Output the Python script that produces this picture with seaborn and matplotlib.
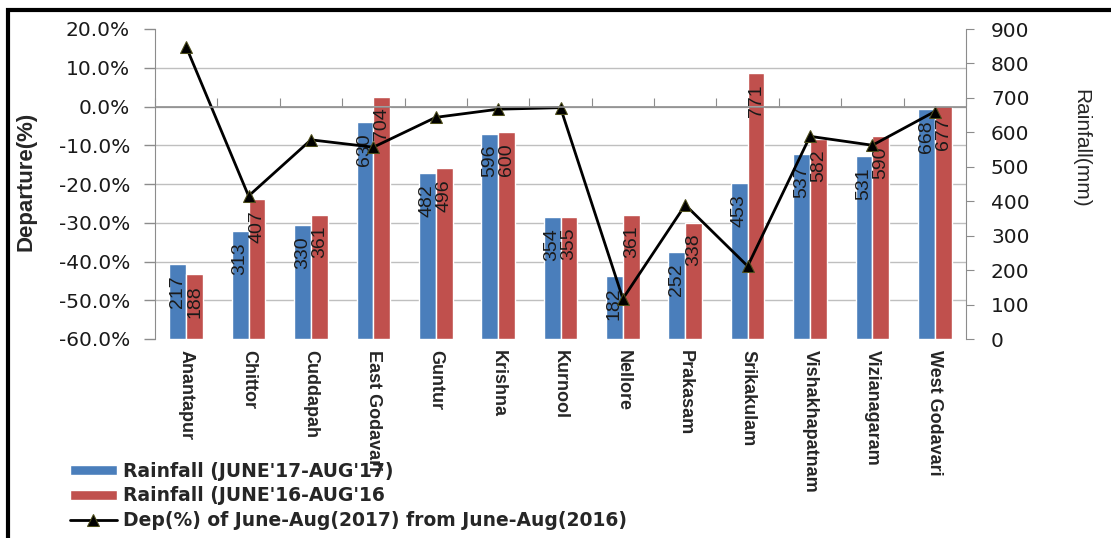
import numpy as np
import pandas as pd
import matplotlib
matplotlib.use("Agg")
import matplotlib.pyplot as plt
from matplotlib.patches import Rectangle
import seaborn as sns

districts = ["Anantapur", "Chittor", "Cuddapah", "East Godavari", "Guntur", "Krishna",
             "Kurnool", "Nellore", "Prakasam", "Srikakulam", "Vishakhapatnam",
             "Vizianagaram", "West Godavari"]
rain_2017 = [217, 313, 330, 630, 482, 596, 354, 182, 252, 453, 537, 531, 668]
rain_2016 = [188, 407, 361, 704, 496, 600, 355, 361, 338, 771, 582, 590, 677]
departure = [15.4, -23.1, -8.6, -10.5, -2.8, -0.7, -0.3, -49.6, -25.4, -41.2, -7.7, -10.0, -1.3]

lab17 = "Rainfall (JUNE'17-AUG'17)"
lab16 = "Rainfall (JUNE'16-AUG'16"
labdep = "Dep(%) of June-Aug(2017) from June-Aug(2016)"

bars = pd.DataFrame({
    "district": districts * 2,
    "rain": rain_2017 + rain_2016,
    "period": [lab17] * len(districts) + [lab16] * len(districts),
})
dep = pd.DataFrame({"district": districts, "dep": departure})

sns.set_style("white")
plt.rcParams["font.family"] = ["DejaVu Sans"]
fam = ["Liberation Sans", "DejaVu Sans"]
grey = "#8C8C8C"

fig = plt.figure(figsize=(11.11, 5.38), dpi=100)
ax = fig.add_axes([155 / 1111, 1 - 339 / 538, (966 - 155) / 1111, 310 / 538])
ax2 = ax.twinx()

# bars on the right (rainfall) axis
sns.barplot(data=bars, x="district", y="rain", hue="period", ax=ax2,
            palette=["#4A7EBB", "#C0504D"], width=0.54, saturation=1)
h2, l2 = ax2.get_legend_handles_labels()
ax2.get_legend().remove()

for cont, vals in zip(ax2.containers, [rain_2017, rain_2016]):
    for p, v in zip(cont.patches, vals):
        ax2.annotate(str(v), xy=(p.get_x() + p.get_width() / 2, p.get_height()),
                     xytext=(0, -8), textcoords="offset points", rotation=90,
                     ha="center", va="top", fontsize=14, color="#1a1a1a", family=fam)

# departure line on the left axis
sns.lineplot(data=dep, x="district", y="dep", ax=ax, color="black", lw=2,
             marker="^", markersize=8, markerfacecolor="black",
             markeredgecolor="#4d4d1a", label=labdep, sort=False)
h1, l1 = ax.get_legend_handles_labels()
ax.get_legend().remove()

ax.set_zorder(ax2.get_zorder() + 1)
ax.patch.set_visible(False)

ax.set_ylim(-60, 20)
ax.set_yticks(np.arange(-60, 21, 10))
ax.set_yticklabels([f"{t:.1f}%" for t in np.arange(-60, 21, 10)])
ax2.set_ylim(0, 900)
ax2.set_yticks(np.arange(0, 901, 100))
ax.set_xlim(-0.5, len(districts) - 0.5)

# gridlines drawn behind bars, at the left axis steps
ax2.set_yticks(np.linspace(0, 900, 9), minor=True)
ax2.grid(which="minor", axis="y", color="#BFBFBF", lw=1)
ax2.tick_params(which="minor", length=0)
ax2.set_axisbelow(True)
ax.grid(False)
ax2.grid(which="major", visible=False)

for s in ["top", "bottom", "right"]:
    ax.spines[s].set_visible(False)
for s in ["top", "bottom", "left"]:
    ax2.spines[s].set_visible(False)
ax.spines["left"].set_color(grey)
ax2.spines["right"].set_color(grey)

ax.tick_params(axis="y", length=8, color=grey, width=1, pad=10, labelsize=14.5, labelcolor="#1a1a1a")
ax2.tick_params(axis="y", which="major", length=6, color=grey, pad=12, labelsize=14.5, labelcolor="#1a1a1a")

# category axis crosses at 0 %
ax.axhline(0, color=grey, lw=1.2)
zero = ax.secondary_xaxis(0.75)
zero.set_xticks(np.arange(-0.5, len(districts), 1.0))
zero.set_xticklabels([])
zero.tick_params(length=6, color=grey, direction="out")
for sp in zero.spines.values():
    sp.set_visible(False)

ax.set_xticks(range(len(districts)))
ax.set_xticklabels(districts, rotation=-90, ha="center", va="top", fontsize=13,
                   fontweight="bold", family=fam)
ax.tick_params(axis="x", length=0, pad=8)
ax.set_xlabel("")
ax2.set_xlabel("")

ax.set_ylabel("Departure(%)", fontsize=16, fontweight="bold", family=fam)
ax.yaxis.set_label_coords((37 - 155) / (966 - 155), 1 - (181 - 29) / 310)
ax2.set_ylabel("Rainfall(mm)", fontsize=15, rotation=270, va="center", family=fam)
ax2.yaxis.set_label_coords((1081 - 155) / (966 - 155), 1 - (148 - 29) / 310)

fig.legend(h2 + h1, l2 + l1, loc="upper left", bbox_to_anchor=(70 / 1111, 1 - 462 / 538),
           frameon=False, borderpad=0, borderaxespad=0, handlelength=2.5,
           handleheight=0.45, handletextpad=0.35, labelspacing=0.28,
           prop={"family": ["DejaVu Sans"], "weight": "bold", "size": 13.5})

fig.add_artist(Rectangle((8 / 1111, -0.05), 1.2, (538 - 10) / 538 + 0.05,
                         transform=fig.transFigure, fill=False, lw=3, ec="black"))

fig.savefig("out.png", dpi=100)
